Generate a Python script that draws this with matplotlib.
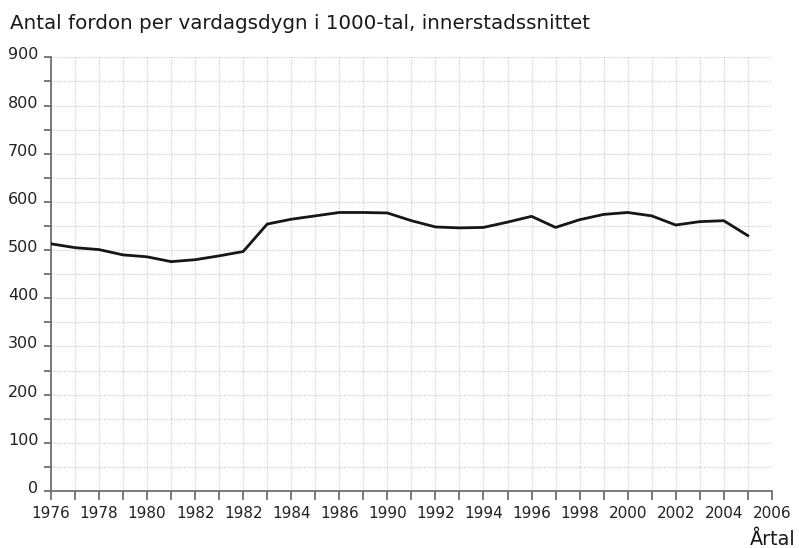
import matplotlib
matplotlib.use("Agg")
import matplotlib.pyplot as plt
import matplotlib.transforms as mtrans
import numpy as np

years = list(range(1976, 2006))
values = [513, 505, 501, 490, 486, 476, 480, 488, 497, 554,
          564, 571, 578, 578, 577, 561, 548, 546, 547, 558,
          570, 547, 563, 574, 578, 571, 552, 559, 561, 530]
tick_years = list(range(1976, 2007, 2))
tick_labels = ["1976", "1978", "1980", "1982", "1982", "1984", "1986", "1990",
               "1992", "1994", "1996", "1998", "2000", "2002", "2004", "2006"]
title = "Antal fordon per vardagsdygn i 1000-tal, innerstadssnittet"
xlabel = "Årtal"

fig = plt.figure(figsize=(7.99, 5.48), dpi=100)
ax = fig.add_axes([0.0638, 0.1040, 0.9022, 0.7914])

ax.plot(years, values, color="#161616", lw=2.0, zorder=3)

ax.set_xlim(1976, 2006)
ax.set_ylim(0, 900)
ax.set_xticks(list(range(1976, 2007)), minor=True)
ax.set_xticks(tick_years)
ax.set_xticklabels(tick_labels)
ax.set_yticks(np.arange(0, 901, 100))
ax.set_yticks(np.arange(0, 901, 50), minor=True)

ax.grid(True, which="both", color="#d0d0d0", lw=0.9, ls=(0, (1, 1)), zorder=0)
for s in ["top", "right"]:
    ax.spines[s].set_visible(False)
for s in ["left", "bottom"]:
    ax.spines[s].set_color("#707070")
    ax.spines[s].set_linewidth(1.3)

ax.tick_params(axis="both", which="both", color="#707070", width=1.3,
               labelsize=11, labelcolor="#222222", direction="out")
ax.tick_params(axis="x", which="both", length=6.5, pad=4)
ax.tick_params(axis="y", which="both", length=5, pad=4)
ax.tick_params(axis="y", which="major", labelsize=11.5)

off = mtrans.ScaledTranslation(0, 0.04, fig.dpi_scale_trans)
for lab in ax.get_yticklabels():
    lab.set_transform(lab.get_transform() + off)

fig.text(0.0125, 0.958, title, fontsize=14.3, color="#1a1a1a", va="center", ha="left")
fig.text(0.995, 0.0055, xlabel, fontsize=13.8, color="#1a1a1a", ha="right", va="baseline")

fig.savefig("out.png", dpi=100, facecolor="white")
